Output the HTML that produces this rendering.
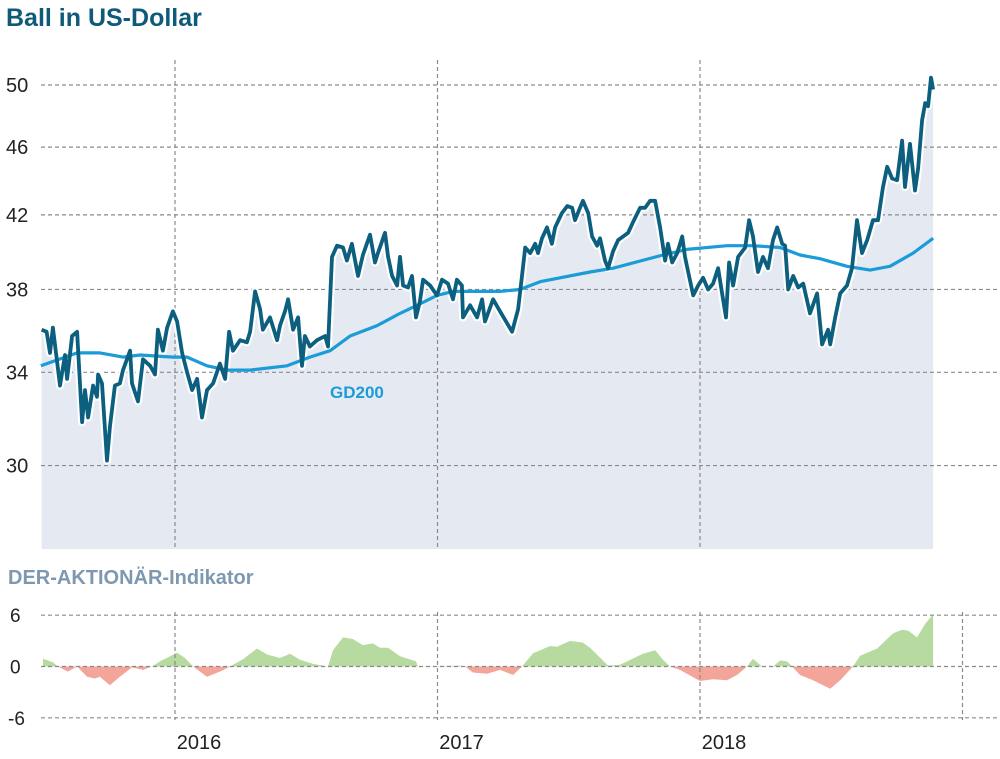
<!DOCTYPE html>
<html><head><meta charset="utf-8"><style>
body{margin:0;background:#fff;}
svg text{font-family:"Liberation Sans",sans-serif;}
</style></head><body>
<svg id="c" width="1000" height="754" xmlns="http://www.w3.org/2000/svg">
<text x="6" y="26" font-size="25" font-weight="bold" fill="#0e5a78">Ball in US-Dollar</text>
<text x="8" y="584" font-size="20" font-weight="bold" fill="#7d98b0">DER-AKTIONÄR-Indikator</text>
<g id="grid"></g><g id="marks"></g><g id="labels"></g>
</svg>
<script>
const priceDates=[2015.492,2015.511,2015.524,2015.535,2015.562,2015.581,2015.589,2015.608,2015.627,2015.646,2015.657,2015.669,2015.688,2015.703,2015.707,2015.722,2015.741,2015.752,2015.771,2015.790,2015.802,2015.829,2015.836,2015.859,2015.878,2015.905,2015.924,2015.935,2015.954,2015.970,2015.992,2016.008,2016.027,2016.046,2016.065,2016.084,2016.103,2016.122,2016.145,2016.171,2016.191,2016.206,2016.221,2016.248,2016.274,2016.286,2016.305,2016.324,2016.335,2016.362,2016.389,2016.400,2016.419,2016.431,2016.450,2016.469,2016.484,2016.495,2016.514,2016.541,2016.572,2016.583,2016.598,2016.617,2016.640,2016.655,2016.674,2016.697,2016.716,2016.743,2016.762,2016.773,2016.800,2016.812,2016.827,2016.846,2016.857,2016.869,2016.888,2016.903,2016.918,2016.933,2016.945,2016.972,2016.998,2017.017,2017.040,2017.059,2017.074,2017.093,2017.097,2017.124,2017.151,2017.170,2017.181,2017.212,2017.238,2017.284,2017.307,2017.322,2017.334,2017.353,2017.372,2017.383,2017.398,2017.417,2017.436,2017.448,2017.474,2017.494,2017.513,2017.524,2017.543,2017.554,2017.574,2017.589,2017.608,2017.619,2017.638,2017.650,2017.669,2017.688,2017.707,2017.726,2017.745,2017.772,2017.791,2017.810,2017.829,2017.848,2017.867,2017.878,2017.894,2017.913,2017.932,2017.943,2017.955,2017.974,2017.993,2018.012,2018.031,2018.050,2018.069,2018.084,2018.099,2018.111,2018.126,2018.145,2018.172,2018.187,2018.202,2018.221,2018.240,2018.259,2018.278,2018.294,2018.313,2018.324,2018.336,2018.355,2018.374,2018.393,2018.419,2018.446,2018.465,2018.488,2018.496,2018.515,2018.534,2018.560,2018.579,2018.598,2018.617,2018.637,2018.659,2018.678,2018.697,2018.713,2018.732,2018.751,2018.770,2018.781,2018.800,2018.819,2018.831,2018.846,2018.858,2018.869,2018.880,2018.888];
const prices=[36.0,35.9,34.9,36.1,33.4,34.8,33.7,35.7,35.9,31.8,33.2,32.0,33.4,32.9,33.9,33.5,30.2,31.6,33.4,33.5,34.1,35.0,33.5,32.7,34.6,34.3,33.9,36.0,35.0,36.1,36.9,36.4,34.9,34.0,33.2,33.7,32.0,33.2,33.5,34.4,33.7,35.9,35.0,35.5,35.4,35.9,37.9,37.0,36.0,36.6,35.5,36.2,36.9,37.5,36.0,36.6,34.3,35.7,35.2,35.5,35.7,35.2,39.7,40.3,40.2,39.5,40.4,38.7,39.8,40.9,39.4,39.9,41.0,39.7,38.7,38.2,39.7,38.2,38.1,38.7,36.6,37.4,38.5,38.2,37.7,38.5,38.3,37.5,38.5,38.2,36.6,37.2,36.6,37.5,36.4,37.5,36.9,35.9,37.0,38.7,40.2,39.9,40.4,39.9,40.7,41.3,40.4,41.3,42.1,42.5,42.4,41.7,42.4,42.8,42.1,40.8,40.3,40.7,39.5,39.1,40.0,40.6,40.8,41.0,41.6,42.4,42.4,42.8,42.8,41.3,39.5,40.4,39.4,39.9,40.8,39.7,38.9,37.7,38.2,38.6,38.0,38.3,39.1,37.8,36.6,39.4,38.2,39.7,40.2,41.7,40.8,38.9,39.7,39.1,40.6,41.3,40.4,40.3,38.0,38.7,38.1,38.3,36.8,37.8,35.3,36.0,35.3,36.6,37.8,38.2,39.1,41.7,39.9,40.6,41.7,41.7,43.6,44.8,44.1,44.0,46.4,43.6,46.2,43.4,44.7,47.7,48.8,48.6,50.5,49.7];
const gdDates=[2015.489,2015.627,2015.714,2015.802,2015.867,2015.992,2016.046,2016.122,2016.198,2016.286,2016.427,2016.514,2016.591,2016.667,2016.770,2016.857,2016.922,2016.998,2017.059,2017.112,2017.238,2017.314,2017.391,2017.581,2017.669,2017.859,2017.950,2018.103,2018.202,2018.305,2018.381,2018.457,2018.560,2018.648,2018.724,2018.812,2018.888];
const gdValues=[34.3,34.9,34.9,34.7,34.8,34.7,34.7,34.3,34.1,34.1,34.3,34.7,35.0,35.7,36.2,36.8,37.2,37.7,37.9,37.9,37.9,38.0,38.4,38.9,39.1,39.8,40.1,40.3,40.3,40.2,39.8,39.6,39.2,39.0,39.2,39.9,40.7];
const indDates=[2015.497,2015.535,2015.554,2015.592,2015.627,2015.665,2015.695,2015.714,2015.752,2015.790,2015.836,2015.878,2015.912,2015.943,2016.008,2016.038,2016.069,2016.122,2016.171,2016.210,2016.259,2016.312,2016.351,2016.400,2016.438,2016.476,2016.526,2016.583,2016.602,2016.640,2016.678,2016.716,2016.754,2016.781,2016.812,2016.857,2016.918,2016.926,2017.086,2017.105,2017.135,2017.189,2017.238,2017.288,2017.322,2017.364,2017.429,2017.455,2017.505,2017.554,2017.581,2017.650,2017.695,2017.783,2017.829,2017.859,2017.886,2017.924,2018.000,2018.050,2018.103,2018.141,2018.179,2018.202,2018.236,2018.278,2018.305,2018.332,2018.351,2018.381,2018.431,2018.496,2018.534,2018.583,2018.610,2018.675,2018.736,2018.770,2018.793,2018.827,2018.858,2018.888];
const indValues=[0.9,0.5,0,-0.6,0,-1.2,-1.4,-1.2,-2.2,-1.2,-0.1,-0.4,0,0.6,1.6,1.0,0,-1.2,-0.6,0,0.85,2.1,1.4,1.0,1.5,0.8,0.3,0,1.9,3.4,3.2,2.5,2.7,2.2,2.2,1.2,0.6,0,0.1,0,-0.7,-0.85,-0.4,-1.0,0,1.55,2.4,2.3,3.0,2.8,2.2,0.1,0.2,1.5,1.9,0.8,0,-0.4,-1.7,-1.5,-1.6,-1.0,0,0.9,0,0,0.7,0.6,0,-1.0,-1.6,-2.6,-1.6,0,1.25,2.1,3.9,4.3,4.2,3.4,5.0,6.1];
const priceTicks=[30,34,38,42,46,50];
const indTicks=[6,0,-6];
const yearTicks=[2016,2017,2018];
const NS='http://www.w3.org/2000/svg';
const xs=t=>175+(t-2016)*262.5;
const ys=v=>85+745*Math.log(50/v);
const yi=v=>666.5-v*8.55;
function mk(tag,attrs,parent){const e=document.createElementNS(NS,tag);for(const k in attrs)e.setAttribute(k,attrs[k]);parent.appendChild(e);return e;}
const grid=document.getElementById('grid'),marks=document.getElementById('marks'),labels=document.getElementById('labels');
const dash={stroke:'#8a8a8a','stroke-width':1.2,'stroke-dasharray':'4,3',fill:'none'};
// area under price
const x0=xs(priceDates[0]),x1=xs(priceDates[priceDates.length-1]);
let pts=priceDates.map((d,i)=>xs(d).toFixed(1)+','+ys(prices[i]).toFixed(1));
const area=mk('polygon',{points:x0+',549 '+pts.join(' ')+' '+x1+',549',fill:'#e5eaf2'},grid);


priceTicks.forEach(v=>{
 const l=mk('line',Object.assign({x1:41,x2:1000,y1:ys(v),y2:ys(v)},dash),grid);
 
 
 const t=mk('text',{x:6,y:ys(v)+7,'font-size':20,fill:'#222'},labels);t.textContent=v;
 
 
});
indTicks.forEach(v=>{
 const l=mk('line',Object.assign({x1:41,x2:1000,y1:yi(v),y2:yi(v)},dash),labels);
 
 
 const t=mk('text',{x:v<0?8:10,y:yi(v)+7,'font-size':19,fill:'#222'},labels);t.textContent=v;
 
 
});
yearTicks.concat([2019]).forEach(y=>{
 if(y<2019){const l=mk('line',Object.assign({x1:xs(y),x2:xs(y),y1:60,y2:549},dash),grid);
 
 }
 const l2=mk('line',Object.assign({x1:xs(y),x2:xs(y),y1:612,y2:720},dash),labels);
 
 
 if(y<2019){const t=mk('text',{x:xs(y)+24,y:749,'font-size':20,fill:'#222','text-anchor':'middle'},labels);t.textContent=y;
 
 }
});
// indicator areas
const defs=mk('defs',{},marks);
const cp=mk('clipPath',{id:'pos'},defs);mk('rect',{x:0,y:0,width:1000,height:yi(0)},cp);
const cn=mk('clipPath',{id:'neg'},defs);mk('rect',{x:0,y:yi(0),width:1000,height:200},cn);
const ip=indDates.map((d,i)=>xs(d).toFixed(1)+','+yi(indValues[i]).toFixed(1));
const ix0=xs(indDates[0]),ix1=xs(indDates[indDates.length-1]);
const ipts=ix0+','+yi(0)+' '+ip.join(' ')+' '+ix1+','+yi(0);
const g1=mk('polygon',{points:ipts,fill:'#b6da9f','clip-path':'url(#pos)'},marks);


const g2=mk('polygon',{points:ipts,fill:'#f3a59a','clip-path':'url(#neg)'},marks);


// price line halo + line
const halo=mk('polyline',{points:pts.join(' '),fill:'none',stroke:'#fff','stroke-width':8,'stroke-linejoin':'round'},marks);


const gd=mk('polyline',{points:gdDates.map((d,i)=>xs(d).toFixed(1)+','+ys(gdValues[i]).toFixed(1)).join(' '),fill:'none',stroke:'#1b9bd7','stroke-width':3.2,'stroke-linejoin':'round'},marks);


const pl=mk('polyline',{points:pts.join(' '),fill:'none',stroke:'#0c5f7f','stroke-width':3.8,'stroke-linejoin':'round'},marks);


const gl=mk('text',{x:330,y:398,'font-size':17,'font-weight':'bold',fill:'#1b9bd7'},labels);gl.textContent='GD200';


</script>
</body></html>
